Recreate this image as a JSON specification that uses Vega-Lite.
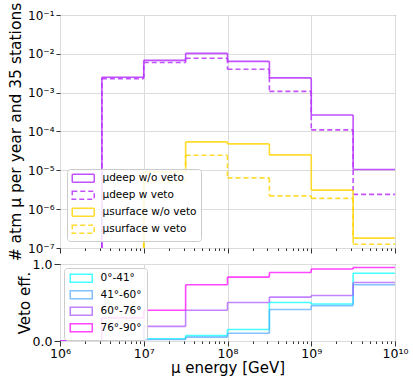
{
  "$schema": "https://vega.github.io/schema/vega-lite/v6.json",
  "padding": {"left": 7, "top": 1, "right": 5, "bottom": 2},
  "spacing": 16,
  "bounds": "flush",
  "resolve": {"scale": {"color": "independent", "strokeDash": "independent"}, "legend": {"color": "independent", "strokeDash": "independent"}},
  "config": {
    "font": "DejaVu Sans",
    "view": {"stroke": "#333333", "strokeWidth": 1},
    "axis": {
      "gridColor": "#dcdcdc",
      "gridWidth": 1,
      "domain": false,
      "tickColor": "#333333",
      "labelColor": "#000000",
      "titleColor": "#000000",
      "titleFontWeight": "normal",
      "labelFontSize": 12,
      "titleFontSize": 14.5
    },
    "legend": {
      "symbolType": "M-1,-1L4.5,-1L4.5,1L-1,1Z",
      "symbolSize": 64,
      "symbolStrokeWidth": 1.5,
      "symbolFillColor": "transparent",
      "fillColor": "rgba(255,255,255,0.85)",
      "strokeColor": "#cccccc",
      "cornerRadius": 3,
      "padding": 4,
      "labelFontSize": 10.5,
      "labelOffset": 21,
      "labelColor": "#000000"
    }
  },
  "datasets": {
    "hist": [
      {"series": "μdeep w/o veto", "lo": 3162278, "hi": 10000000, "v": 0.0025, "prev": 1e-9},
      {"series": "μdeep w/o veto", "lo": 10000000, "hi": 31622777, "v": 0.0068, "prev": 0.0025},
      {"series": "μdeep w/o veto", "lo": 31622777, "hi": 100000000, "v": 0.0103, "prev": 0.0068},
      {"series": "μdeep w/o veto", "lo": 100000000, "hi": 316227766, "v": 0.0064, "prev": 0.0103},
      {"series": "μdeep w/o veto", "lo": 316227766, "hi": 1000000000, "v": 0.0024, "prev": 0.0064},
      {"series": "μdeep w/o veto", "lo": 1000000000, "hi": 3162277660, "v": 0.000265, "prev": 0.0024},
      {"series": "μdeep w/o veto", "lo": 3162277660, "hi": 10000000000, "v": 0.0000105, "prev": 0.000265},
      {"series": "μdeep w veto", "lo": 3162278, "hi": 10000000, "v": 0.0023, "prev": 1e-9},
      {"series": "μdeep w veto", "lo": 10000000, "hi": 31622777, "v": 0.006, "prev": 0.0023},
      {"series": "μdeep w veto", "lo": 31622777, "hi": 100000000, "v": 0.0077, "prev": 0.006},
      {"series": "μdeep w veto", "lo": 100000000, "hi": 316227766, "v": 0.004, "prev": 0.0077},
      {"series": "μdeep w veto", "lo": 316227766, "hi": 1000000000, "v": 0.00108, "prev": 0.004},
      {"series": "μdeep w veto", "lo": 1000000000, "hi": 3162277660, "v": 0.00011, "prev": 0.00108},
      {"series": "μdeep w veto", "lo": 3162277660, "hi": 10000000000, "v": 0.0000024, "prev": 0.00011},
      {"series": "μsurface w/o veto", "lo": 10000000, "hi": 31622777, "v": 0.0000091, "prev": 1e-9},
      {"series": "μsurface w/o veto", "lo": 31622777, "hi": 100000000, "v": 0.000054, "prev": 0.0000091},
      {"series": "μsurface w/o veto", "lo": 100000000, "hi": 316227766, "v": 0.000048, "prev": 0.000054},
      {"series": "μsurface w/o veto", "lo": 316227766, "hi": 1000000000, "v": 0.000025, "prev": 0.000048},
      {"series": "μsurface w/o veto", "lo": 1000000000, "hi": 3162277660, "v": 0.0000031, "prev": 0.000025},
      {"series": "μsurface w/o veto", "lo": 3162277660, "hi": 10000000000, "v": 0.00000018, "prev": 0.0000031},
      {"series": "μsurface w veto", "lo": 10000000, "hi": 31622777, "v": 0.000005, "prev": 1e-9},
      {"series": "μsurface w veto", "lo": 31622777, "hi": 100000000, "v": 0.0000245, "prev": 0.000005},
      {"series": "μsurface w veto", "lo": 100000000, "hi": 316227766, "v": 0.0000064, "prev": 0.0000245},
      {"series": "μsurface w veto", "lo": 316227766, "hi": 1000000000, "v": 0.0000022, "prev": 0.0000064},
      {"series": "μsurface w veto", "lo": 1000000000, "hi": 3162277660, "v": 0.0000019, "prev": 0.0000022},
      {"series": "μsurface w veto", "lo": 3162277660, "hi": 10000000000, "v": 0.000000125, "prev": 0.0000019}
    ],
    "veto": [
      {"zen": "0°-41°", "lo": 1000000, "hi": 3162278, "v": 0, "prev": 0},
      {"zen": "0°-41°", "lo": 3162278, "hi": 10000000, "v": 0.0, "prev": 0},
      {"zen": "0°-41°", "lo": 10000000, "hi": 31622777, "v": 0.03, "prev": 0.0},
      {"zen": "0°-41°", "lo": 31622777, "hi": 100000000, "v": 0.07, "prev": 0.03},
      {"zen": "0°-41°", "lo": 100000000, "hi": 316227766, "v": 0.15, "prev": 0.07},
      {"zen": "0°-41°", "lo": 316227766, "hi": 1000000000, "v": 0.5, "prev": 0.15},
      {"zen": "0°-41°", "lo": 1000000000, "hi": 3162277660, "v": 0.48, "prev": 0.5},
      {"zen": "0°-41°", "lo": 3162277660, "hi": 10000000000, "v": 0.88, "prev": 0.48},
      {"zen": "41°-60°", "lo": 1000000, "hi": 3162278, "v": 0, "prev": 0},
      {"zen": "41°-60°", "lo": 3162278, "hi": 10000000, "v": 0.0, "prev": 0},
      {"zen": "41°-60°", "lo": 10000000, "hi": 31622777, "v": 0.02, "prev": 0.0},
      {"zen": "41°-60°", "lo": 31622777, "hi": 100000000, "v": 0.05, "prev": 0.02},
      {"zen": "41°-60°", "lo": 100000000, "hi": 316227766, "v": 0.1, "prev": 0.05},
      {"zen": "41°-60°", "lo": 316227766, "hi": 1000000000, "v": 0.41, "prev": 0.1},
      {"zen": "41°-60°", "lo": 1000000000, "hi": 3162277660, "v": 0.46, "prev": 0.41},
      {"zen": "41°-60°", "lo": 3162277660, "hi": 10000000000, "v": 0.73, "prev": 0.46},
      {"zen": "60°-76°", "lo": 1000000, "hi": 3162278, "v": 0, "prev": 0},
      {"zen": "60°-76°", "lo": 3162278, "hi": 10000000, "v": 0.0, "prev": 0},
      {"zen": "60°-76°", "lo": 10000000, "hi": 31622777, "v": 0.19, "prev": 0.0},
      {"zen": "60°-76°", "lo": 31622777, "hi": 100000000, "v": 0.4, "prev": 0.19},
      {"zen": "60°-76°", "lo": 100000000, "hi": 316227766, "v": 0.5, "prev": 0.4},
      {"zen": "60°-76°", "lo": 316227766, "hi": 1000000000, "v": 0.57, "prev": 0.5},
      {"zen": "60°-76°", "lo": 1000000000, "hi": 3162277660, "v": 0.59, "prev": 0.57},
      {"zen": "60°-76°", "lo": 3162277660, "hi": 10000000000, "v": 0.76, "prev": 0.59},
      {"zen": "76°-90°", "lo": 1000000, "hi": 3162278, "v": 0, "prev": 0},
      {"zen": "76°-90°", "lo": 3162278, "hi": 10000000, "v": 0.3, "prev": 0},
      {"zen": "76°-90°", "lo": 10000000, "hi": 31622777, "v": 0.4, "prev": 0.3},
      {"zen": "76°-90°", "lo": 31622777, "hi": 100000000, "v": 0.73, "prev": 0.4},
      {"zen": "76°-90°", "lo": 100000000, "hi": 316227766, "v": 0.83, "prev": 0.73},
      {"zen": "76°-90°", "lo": 316227766, "hi": 1000000000, "v": 0.89, "prev": 0.83},
      {"zen": "76°-90°", "lo": 1000000000, "hi": 3162277660, "v": 0.935, "prev": 0.89},
      {"zen": "76°-90°", "lo": 3162277660, "hi": 10000000000, "v": 0.955, "prev": 0.935}
    ]
  },
  "vconcat": [
    {
      "width": 335,
      "height": 233,
      "data": {"name": "hist"},
      "encoding": {
        "color": {
          "field": "series",
          "type": "nominal",
          "scale": {
            "domain": ["μdeep w/o veto", "μdeep w veto", "μsurface w/o veto", "μsurface w veto"],
            "range": ["#b733ff", "#b733ff", "#ffd60a", "#ffd60a"]
          },
          "legend": {"title": null, "orient": "bottom-left", "offset": 7, "rowPadding": 2}
        },
        "strokeDash": {
          "field": "series",
          "type": "nominal",
          "scale": {
            "domain": ["μdeep w/o veto", "μdeep w veto", "μsurface w/o veto", "μsurface w veto"],
            "range": [[1, 0], [5, 3], [1, 0], [5, 3]]
          },
          "legend": {"title": null, "orient": "bottom-left", "offset": 7, "rowPadding": 2}
        }
      },
      "layer": [
        {
          "mark": {"type": "rule", "strokeWidth": 1.6, "opacity": 0.85, "clip": true},
          "encoding": {
            "x": {
              "field": "lo",
              "type": "quantitative",
              "scale": {"type": "log", "domain": [1000000, 10000000000], "nice": false},
              "axis": {
                "title": null,
                "labels": false,
                "values": [1000000, 2000000, 3000000, 4000000, 5000000, 6000000, 7000000, 8000000, 9000000, 10000000, 20000000, 30000000, 40000000, 50000000, 60000000, 70000000, 80000000, 90000000, 100000000, 200000000, 300000000, 400000000, 500000000, 600000000, 700000000, 800000000, 900000000, 1000000000, 2000000000, 3000000000, 4000000000, 5000000000, 6000000000, 7000000000, 8000000000, 9000000000, 10000000000],
                "tickSize": {"condition": {"test": "abs(log(datum.value)/LN10 - round(log(datum.value)/LN10)) < 0.01", "value": 5}, "value": 2.5},
                "gridOpacity": {"condition": {"test": "abs(log(datum.value)/LN10 - round(log(datum.value)/LN10)) < 0.01", "value": 1}, "value": 0}
              }
            },
            "x2": {"field": "hi"},
            "y": {
              "field": "v",
              "type": "quantitative",
              "scale": {"type": "log", "domain": [1e-7, 0.1], "nice": false, "clamp": true},
              "axis": {
                "title": "# atm μ per year and 35 stations",
                "values": [1e-7, 1e-6, 1e-5, 1e-4, 1e-3, 1e-2, 1e-1],
                "labelExpr": "datum.value > 0.05 ? '10⁻¹' : datum.value > 0.005 ? '10⁻²' : datum.value > 0.0005 ? '10⁻³' : datum.value > 0.00005 ? '10⁻⁴' : datum.value > 0.000005 ? '10⁻⁵' : datum.value > 0.0000005 ? '10⁻⁶' : '10⁻⁷'",
                "tickSize": 4,
                "labelPadding": 2,
                "minExtent": 33,
                "maxExtent": 33,
                "titlePadding": 4,
                "titleFontSize": 15.5
              }
            }
          }
        },
        {
          "mark": {"type": "rule", "strokeWidth": 1.6, "opacity": 0.85, "clip": true},
          "encoding": {
            "x": {"field": "lo", "type": "quantitative"},
            "y": {"field": "prev", "type": "quantitative"},
            "y2": {"field": "v"}
          }
        }
      ]
    },
    {
      "width": 335,
      "height": 77,
      "data": {"name": "veto"},
      "encoding": {
        "color": {
          "field": "zen",
          "type": "nominal",
          "scale": {
            "domain": ["0°-41°", "41°-60°", "60°-76°", "76°-90°"],
            "range": ["#00ffff", "#55aaff", "#aa55ff", "#ff00ff"]
          },
          "legend": {"title": null, "orient": "top-left", "offset": 4, "rowPadding": 1.5, "padding": 5}
        }
      },
      "layer": [
        {
          "mark": {"type": "rule", "strokeWidth": 1.6, "opacity": 0.72, "clip": true},
          "encoding": {
            "x": {
              "field": "lo",
              "type": "quantitative",
              "scale": {"type": "log", "domain": [1000000, 10000000000], "nice": false},
              "axis": {
                "title": "μ energy [GeV]",
                "titleFontSize": 15,
                "titlePadding": 1,
                "values": [1000000, 2000000, 3000000, 4000000, 5000000, 6000000, 7000000, 8000000, 9000000, 10000000, 20000000, 30000000, 40000000, 50000000, 60000000, 70000000, 80000000, 90000000, 100000000, 200000000, 300000000, 400000000, 500000000, 600000000, 700000000, 800000000, 900000000, 1000000000, 2000000000, 3000000000, 4000000000, 5000000000, 6000000000, 7000000000, 8000000000, 9000000000, 10000000000],
                "labelExpr": "abs(log(datum.value)/LN10 - round(log(datum.value)/LN10)) > 0.01 ? '' : datum.value > 5000000000 ? '10¹⁰' : datum.value > 500000000 ? '10⁹' : datum.value > 50000000 ? '10⁸' : datum.value > 5000000 ? '10⁷' : '10⁶'",
                "labelFontSize": 12.5,
                "labelPadding": 1,
                "labelFlush": false,
                "labelOverlap": false,
                "tickSize": {"condition": {"test": "abs(log(datum.value)/LN10 - round(log(datum.value)/LN10)) < 0.01", "value": 5}, "value": 2.5},
                "gridOpacity": {"condition": {"test": "abs(log(datum.value)/LN10 - round(log(datum.value)/LN10)) < 0.01", "value": 1}, "value": 0}
              }
            },
            "x2": {"field": "hi"},
            "y": {
              "field": "v",
              "type": "quantitative",
              "scale": {"domain": [0, 1], "nice": false},
              "axis": {
                "title": "Veto eff.",
                "titleFontSize": 15,
                "values": [0, 0.5, 1],
                "format": ".1f",
                "tickSize": 6,
                "labelPadding": 2,
                "labelFontSize": 12.5,
                "minExtent": 25,
                "maxExtent": 25,
                "titlePadding": 3
              }
            }
          }
        },
        {
          "mark": {"type": "rule", "strokeWidth": 1.6, "opacity": 0.72, "clip": true},
          "encoding": {
            "x": {"field": "lo", "type": "quantitative"},
            "y": {"field": "prev", "type": "quantitative"},
            "y2": {"field": "v"}
          }
        }
      ]
    }
  ]
}
